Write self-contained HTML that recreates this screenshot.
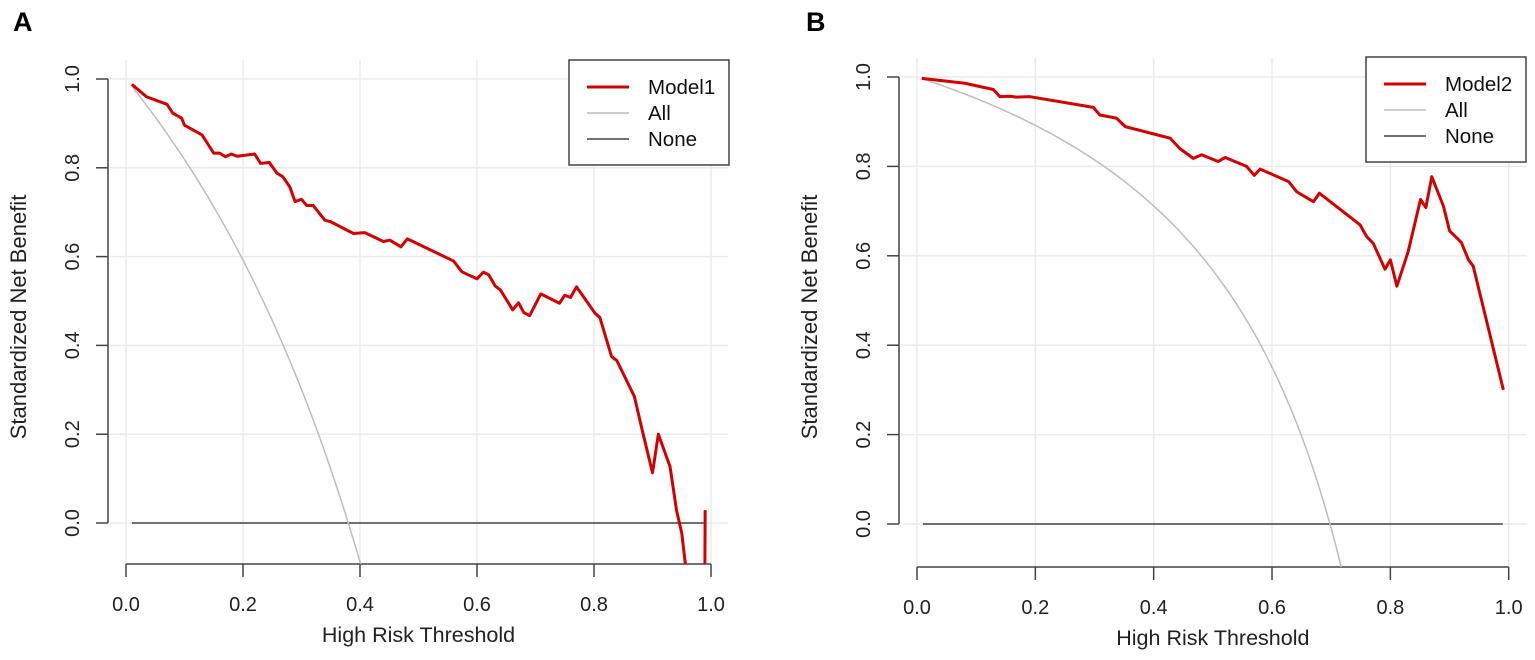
<!DOCTYPE html>
<html><head><meta charset="utf-8"><style>
html,body{margin:0;padding:0;background:#fff;width:1535px;height:660px;overflow:hidden;}
svg{display:block;font-family:"Liberation Sans",Arial,sans-serif;}
</style></head><body>
<svg id="chart" width="1535" height="660" viewBox="0 0 1535 660" xmlns="http://www.w3.org/2000/svg"></svg>
<script>
// ---------- data ----------
const tickValues = [0, 0.2, 0.4, 0.6, 0.8, 1.0];
const tickLabels = ["0.0", "0.2", "0.4", "0.6", "0.8", "1.0"];
const prevalenceA = 0.38;
const prevalenceB = 0.698;
const thresholdsA = [0.01,0.035,0.07,0.08,0.095,0.10,0.13,0.15,0.16,0.17,0.18,0.19,0.22,0.23,0.245,0.258,0.268,0.28,0.289,0.30,0.309,0.32,0.34,0.349,0.389,0.408,0.44,0.451,0.47,0.481,0.56,0.574,0.585,0.60,0.611,0.62,0.631,0.64,0.661,0.671,0.68,0.69,0.709,0.741,0.75,0.76,0.77,0.802,0.81,0.83,0.839,0.869,0.881,0.90,0.91,0.93,0.941,0.95,0.956,0.96,0.97,0.98,0.99];
const model1 = [0.988,0.96,0.943,0.923,0.912,0.896,0.874,0.833,0.833,0.825,0.831,0.826,0.831,0.81,0.812,0.788,0.78,0.757,0.724,0.729,0.715,0.715,0.682,0.679,0.652,0.654,0.634,0.637,0.622,0.64,0.59,0.566,0.559,0.55,0.565,0.559,0.534,0.525,0.48,0.496,0.474,0.467,0.516,0.495,0.513,0.508,0.532,0.472,0.463,0.375,0.366,0.285,0.217,0.113,0.20,0.127,0.029,-0.023,-0.09,-0.5,-1.5,-3.0,0.029];
const thresholdsB = [0.008,0.081,0.129,0.14,0.157,0.168,0.191,0.298,0.309,0.337,0.352,0.428,0.444,0.467,0.481,0.509,0.521,0.557,0.57,0.58,0.628,0.642,0.67,0.68,0.749,0.76,0.771,0.791,0.80,0.811,0.83,0.851,0.86,0.87,0.89,0.90,0.92,0.932,0.94,0.991];
const model2 = [0.997,0.986,0.972,0.956,0.957,0.955,0.956,0.932,0.915,0.908,0.889,0.863,0.84,0.818,0.826,0.811,0.82,0.80,0.78,0.794,0.766,0.743,0.721,0.74,0.669,0.643,0.628,0.57,0.591,0.532,0.609,0.726,0.708,0.777,0.71,0.656,0.63,0.591,0.577,0.30];

// ---------- helpers ----------
const NS = "http://www.w3.org/2000/svg";
const svg = document.getElementById("chart");
function mk(tag, attrs, parent) {
  const e = document.createElementNS(NS, tag);
  for (const k in attrs) e.setAttribute(k, attrs[k]);
  (parent || svg).appendChild(e);
  return e;
}

function panel(cfg) {
  const g = mk("g", {});
  
  
  const xs = v => cfg.x0 + v * cfg.xu;
  const ys = v => cfg.y0 - v * cfg.yu;
  const clipId = cfg.name + "-clip";
  const cp = mk("clipPath", {id: clipId}, g);
  mk("rect", {x: cfg.axX, y: cfg.top, width: cfg.right - cfg.axX, height: cfg.axY - cfg.top}, cp);

  const L = mk("text", {x: cfg.letterX, y: 31, "font-size": 27, "font-weight": "bold", fill: "#000"}, g);
  L.textContent = cfg.letter;
  
  

  const grid = mk("g", {stroke: "#ebebeb", "stroke-width": 1.5}, g);
  
  
  tickValues.forEach(v => {
    mk("line", {x1: xs(v), x2: xs(v), y1: cfg.top, y2: cfg.axY}, grid);
    mk("line", {x1: cfg.axX + 2, x2: cfg.right, y1: ys(v), y2: ys(v)}, grid);
  });

  const ya = mk("g", {stroke: "#444", "stroke-width": 1.5}, g);
  
  
  mk("line", {x1: cfg.axX, x2: cfg.axX, y1: ys(1), y2: ys(0)}, ya);
  tickValues.forEach((v, i) => {
    mk("line", {x1: cfg.axX - 12, x2: cfg.axX, y1: ys(v), y2: ys(v)}, ya);
    const t = mk("text", {x: 0, y: 0, "font-size": 20, fill: "#222", stroke: "none", "text-anchor": "middle",
      transform: `translate(${cfg.axX - 29},${ys(v)}) rotate(-90)`}, g);
    t.textContent = tickLabels[i];
    
    
  });
  const yt = mk("text", {x: 0, y: 0, "font-size": 22, fill: "#222", "text-anchor": "middle",
    transform: `translate(${cfg.axX - 82},${cfg.yTitleY}) rotate(-90)`}, g);
  yt.textContent = "Standardized Net Benefit";
  
  

  const xa = mk("g", {stroke: "#444", "stroke-width": 1.5}, g);
  
  
  mk("line", {x1: xs(0), x2: xs(1), y1: cfg.axY, y2: cfg.axY}, xa);
  tickValues.forEach((v, i) => {
    mk("line", {x1: xs(v), x2: xs(v), y1: cfg.axY, y2: cfg.axY + 13}, xa);
    const t = mk("text", {x: xs(v), y: cfg.axY + 47, "font-size": 20, fill: "#222", "text-anchor": "middle"}, g);
    t.textContent = tickLabels[i];
    
    
  });
  const xt = mk("text", {x: (xs(0) + xs(1)) / 2, y: cfg.axY + 78, "font-size": 21.5, fill: "#222", "text-anchor": "middle"}, g);
  xt.textContent = "High Risk Threshold";
  
  

  const series = mk("g", {"clip-path": `url(#${clipId})`, fill: "none"}, g);
  const none = mk("line", {x1: xs(0.01), x2: xs(0.99), y1: ys(0), y2: ys(0), stroke: "#444", "stroke-width": 1.5}, series);
  
  
  const p = cfg.prev;
  let d = "";
  for (let i = 1; i <= 99; i++) {
    const t = i / 100;
    const v = 1 - ((1 - p) / p) * t / (1 - t);
    d += (i === 1 ? "M" : "L") + xs(t).toFixed(2) + "," + ys(v).toFixed(2);
  }
  const all = mk("path", {d: d, stroke: "#bdbdbd", "stroke-width": 1.5}, series);
  
  
  let dm = "";
  cfg.tx.forEach((t, i) => { dm += (i ? "L" : "M") + xs(t).toFixed(2) + "," + ys(cfg.vals[i]).toFixed(2); });
  const m = mk("path", {d: dm, stroke: "#d40000", "stroke-width": 3, "stroke-linejoin": "round"}, series);
  
  

  const lg = mk("g", {}, g);
  
  
  const lx = cfg.legX, ly = cfg.legY;
  mk("rect", {x: lx, y: ly, width: 160, height: 105, fill: "#fff", stroke: "#444", "stroke-width": 1.5}, lg);
  const entries = [[cfg.modelName, "#d40000", 3], ["All", "#bdbdbd", 1.5], ["None", "#444", 1.5]];
  entries.forEach((e, i) => {
    const yy = ly + 27 + i * 26;
    const eg = mk("g", {}, lg);
    
    
    mk("line", {x1: lx + 18, x2: lx + 60, y1: yy, y2: yy, stroke: e[1], "stroke-width": e[2]}, eg);
    const t = mk("text", {x: lx + 79, y: yy + 7, "font-size": 20.5, fill: "#111"}, eg);
    t.textContent = e[0];
  });
}

panel({name: "panel-a", letter: "A", letterX: 13, x0: 126, xu: 585, y0: 523, yu: 444, axX: 108, axY: 564, yTitleY: 317,
  top: 60, right: 728, prev: prevalenceA, tx: thresholdsA, vals: model1, modelName: "Model1", legX: 569, legY: 60});
panel({name: "panel-b", letter: "B", letterX: 806, x0: 917, xu: 591.7, y0: 524, yu: 447, axX: 899, axY: 567, yTitleY: 317,
  top: 58, right: 1527, prev: prevalenceB, tx: thresholdsB, vals: model2, modelName: "Model2", legX: 1366, legY: 57});
</script>
</body></html>
